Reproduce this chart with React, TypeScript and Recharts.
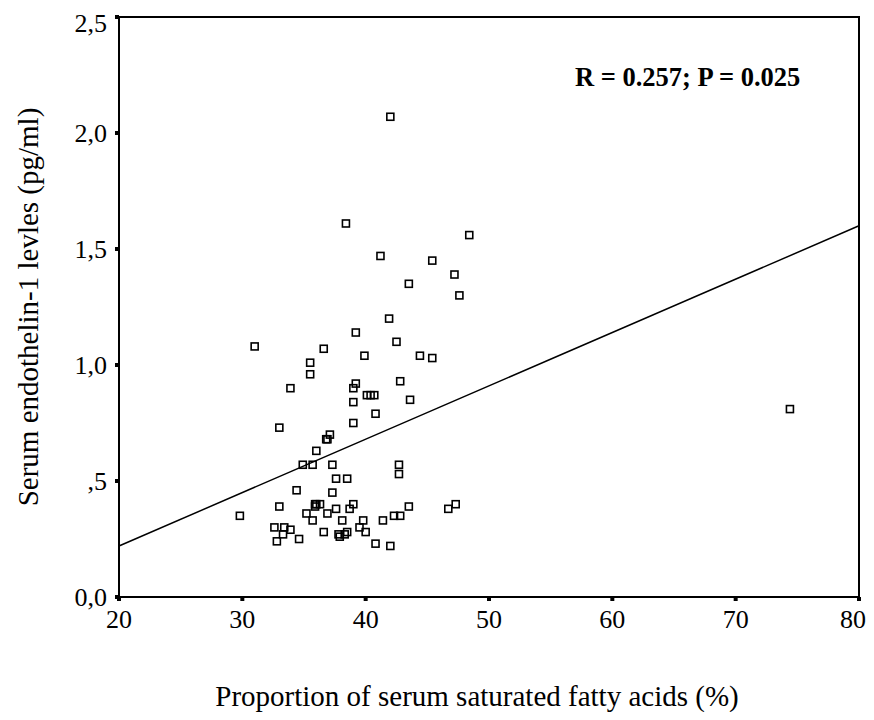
import {
  ReferenceArea,
  ReferenceLine,
  Scatter,
  ScatterChart,
  XAxis,
  YAxis,
} from "recharts";

// proportion of serum saturated fatty acids (%)
const satFat = [
  42.0, 38.4, 48.4, 41.2, 45.4, 47.2, 43.5, 47.6, 41.9, 39.2,
  42.5, 36.6, 31.0, 39.9, 44.4, 45.4, 35.5, 35.5, 33.9, 39.2,
  39.0, 42.8, 40.1, 40.4, 40.7, 39.0, 43.6, 40.8, 39.0, 33.0,
  37.1, 36.9, 36.8, 36.0, 34.9, 35.7, 37.3, 42.7, 42.7, 37.6,
  38.5, 34.4, 37.3, 33.0, 35.9, 36.0, 36.3, 35.9, 35.2, 36.9,
  37.6, 38.7, 39.0, 43.5, 42.3, 42.8, 46.7, 47.3, 35.7, 38.1,
  39.8, 41.4, 32.6, 33.4, 33.9, 39.5, 36.6, 37.8, 37.9, 38.5,
  38.3, 40.0, 33.3, 32.8, 34.6, 40.8, 42.0, 29.8, 74.4,
];

// serum endothelin-1 (pg/ml)
const endothelin = [
  2.07, 1.61, 1.56, 1.47, 1.45, 1.39, 1.35, 1.30, 1.20, 1.14,
  1.10, 1.07, 1.08, 1.04, 1.04, 1.03, 1.01, 0.96, 0.90, 0.92,
  0.90, 0.93, 0.87, 0.87, 0.87, 0.84, 0.85, 0.79, 0.75, 0.73,
  0.70, 0.68, 0.68, 0.63, 0.57, 0.57, 0.57, 0.57, 0.53, 0.51,
  0.51, 0.46, 0.45, 0.39, 0.40, 0.40, 0.40, 0.39, 0.36, 0.36,
  0.38, 0.38, 0.40, 0.39, 0.35, 0.35, 0.38, 0.40, 0.33, 0.33,
  0.33, 0.33, 0.30, 0.30, 0.29, 0.30, 0.28, 0.27, 0.26, 0.28,
  0.27, 0.28, 0.27, 0.24, 0.25, 0.23, 0.22, 0.35, 0.81,
];

const xTicks = [20, 30, 40, 50, 60, 70, 80];
const yTicks = [0, 0.5, 1, 1.5, 2, 2.5];

// fitted line end points
const fitX = [20, 80];
const fitY = [0.22, 1.6];

const xTitle = "Proportion of serum saturated fatty acids (%)";
const yTitle = "Serum endothelin-1 levles (pg/ml)";
const stats = "R = 0.257; P = 0.025";

const font = "'Liberation Serif', 'Times New Roman', serif";

function yTick(v: number): string {
  const s = v.toFixed(1).replace(".", ",");
  return v > 0 && v < 1 ? s.slice(1) : s;
}

function Square({ cx, cy }: { cx?: number; cy?: number }) {
  if (cx == null || cy == null) return null;
  return (
    <rect x={cx - 3.5} y={cy - 3.5} width={7} height={7} fill="#fff" fillOpacity={0} stroke="#000" strokeWidth={1.6} />
  );
}

export default function App() {
  const points = satFat.map((x, i) => ({ x, y: endothelin[i] }));
  const tickStyle = { fontSize: 26, fill: "#000", fontFamily: font };
  return (
    <div style={{ position: "relative", width: 858, height: 704, fontFamily: font }}>
      <style>{".recharts-surface { overflow: visible; }"}</style>
      <ScatterChart width={858} height={704} margin={{ top: 9, right: 7, bottom: 0, left: 0 }}>
        <XAxis
          type="number"
          dataKey="x"
          domain={[20, 80]}
          ticks={xTicks}
          stroke="#000"
          strokeWidth={2}
          tickSize={4}
          tickLine={{ stroke: "#000", strokeWidth: 4 }}
          tickMargin={9}
          tick={tickStyle}
          height={115}
          label={{
            value: xTitle,
            position: "insideBottom",
            offset: 6,
            dx: -12,
            fontSize: 29,
            fill: "#000",
            fontFamily: font,
            style: { fill: "#000" },
          }}
        />
        <YAxis
          type="number"
          dataKey="y"
          domain={[0, 2.5]}
          ticks={yTicks}
          tickFormatter={yTick}
          stroke="#000"
          strokeWidth={2}
          tickSize={4}
          tickLine={{ stroke: "#000", strokeWidth: 4 }}
          tickMargin={8}
          tick={tickStyle}
          width={111}
          label={{
            value: yTitle,
            angle: -90,
            position: "insideLeft",
            offset: 20,
            fontSize: 29,
            fill: "#000",
            fontFamily: font,
            style: { textAnchor: "middle", fill: "#000" },
          }}
        />
        <ReferenceArea x1={20} x2={80} y1={0} y2={2.5} fill="none" stroke="#000" strokeWidth={2} ifOverflow="visible" />
        <ReferenceLine
          segment={[
            { x: fitX[0], y: fitY[0] },
            { x: fitX[1], y: fitY[1] },
          ]}
          stroke="#000"
          strokeWidth={1.5}
        />
        <Scatter data={points} shape={<Square />} isAnimationActive={false} />
      </ScatterChart>
      <div
        style={{
          position: "absolute",
          left: 567,
          top: 56,
          fontSize: 26.5,
          lineHeight: "26px",
          fontWeight: "bold",
          whiteSpace: "nowrap",
        }}
      >
        {stats}
      </div>
    </div>
  );
}
